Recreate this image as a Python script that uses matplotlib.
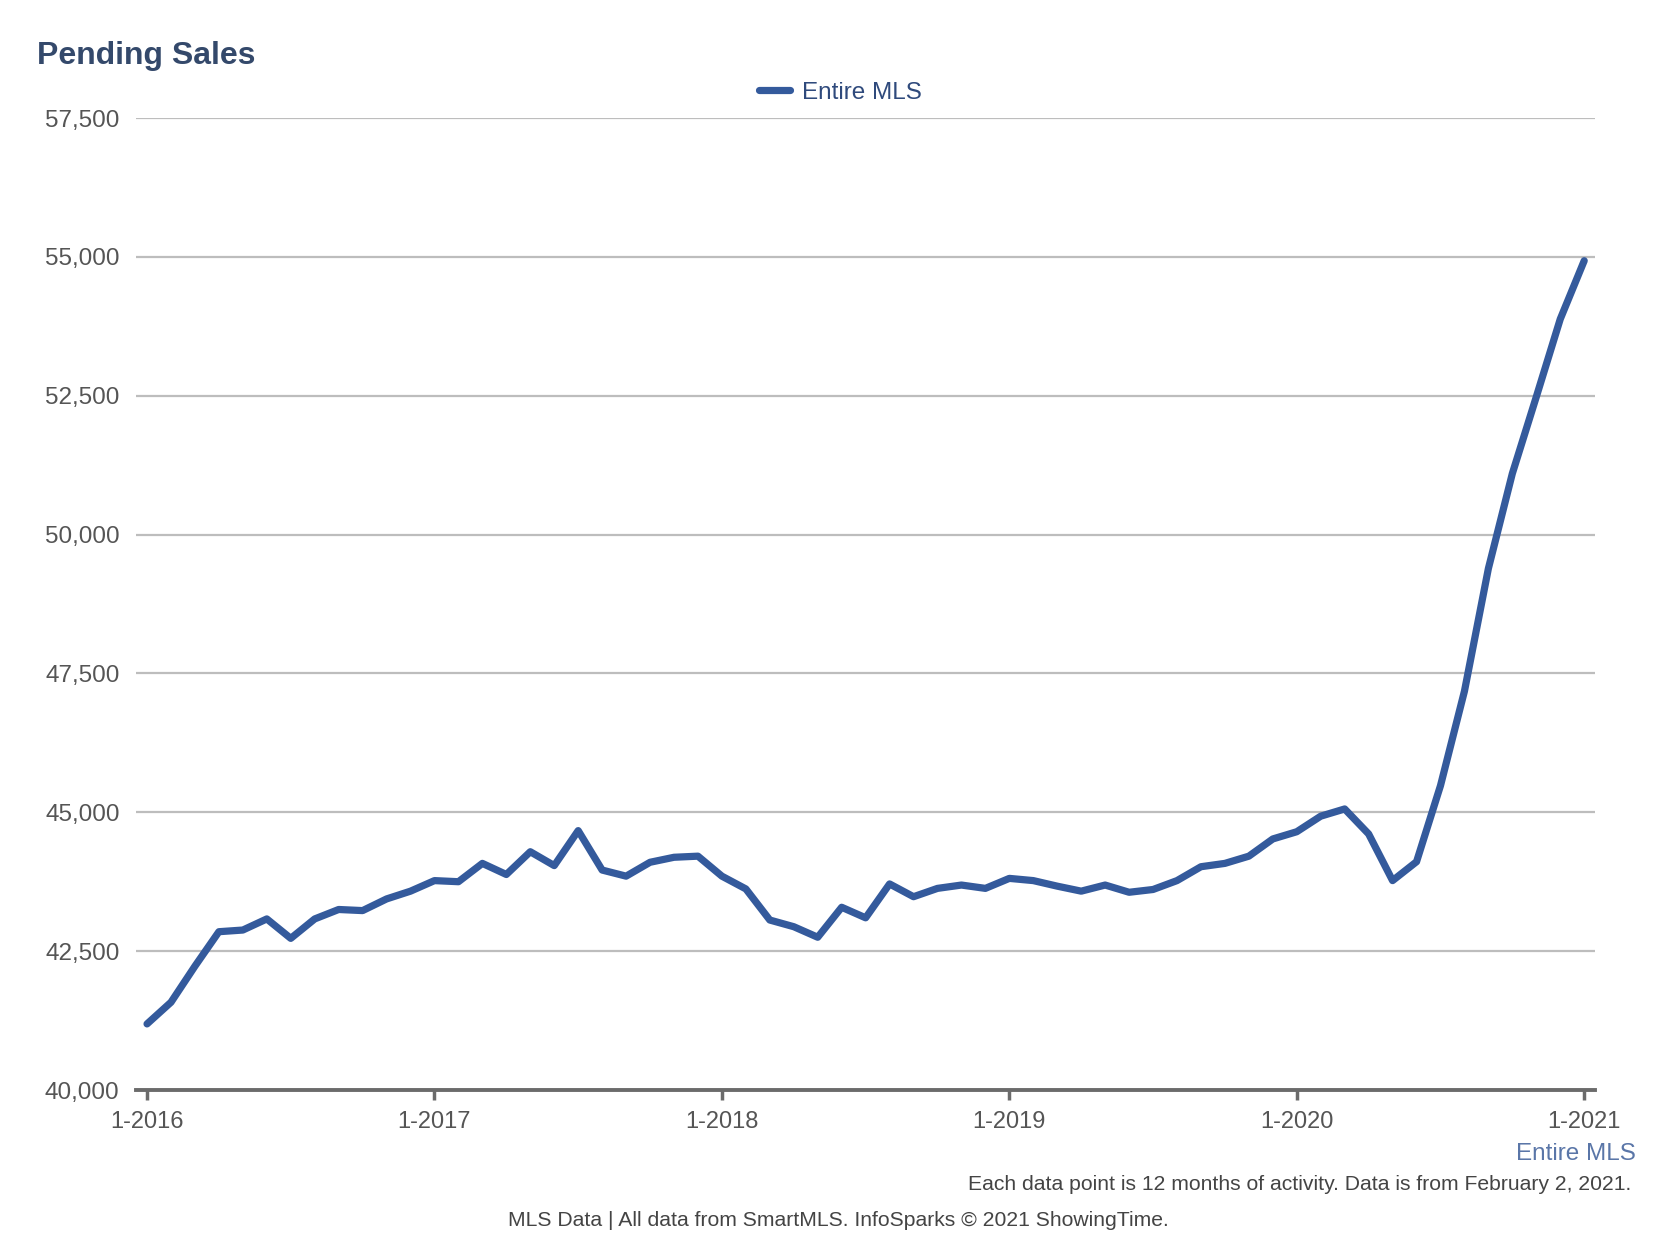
import numpy as np
import matplotlib
matplotlib.use('Agg')
import matplotlib.pyplot as plt
from matplotlib.ticker import FuncFormatter

# monthly values, 1-2016 .. 1-2021 (12-month rolling pending sales)
pending = [41190, 41580, 42230, 42850, 42880, 43080, 42730, 43080, 43250, 43230,
           43440, 43580, 43770, 43750, 44080, 43880, 44290, 44040, 44670, 43960,
           43850, 44100, 44190, 44210, 43850, 43620, 43060, 42940, 42750, 43290,
           43100, 43710, 43480, 43630, 43690, 43630, 43810, 43770, 43670, 43580,
           43690, 43560, 43610, 43770, 44020, 44080, 44210, 44520, 44650, 44930,
           45060, 44610, 43770, 44110, 45480, 47180, 49390, 51100, 52480, 53880,
           54930]
months = np.arange(len(pending))
tick_pos = [0, 12, 24, 36, 48, 60]
tick_labels = ['1-2016', '1-2017', '1-2018', '1-2019', '1-2020', '1-2021']
y_ticks = [40000, 42500, 45000, 47500, 50000, 52500, 55000, 57500]

plt.rcParams['font.family'] = ['Liberation Sans', 'DejaVu Sans']

line_col = '#345a9c'
fig = plt.figure(figsize=(16.74, 12.5), dpi=100)
ax = fig.add_axes([0.0814, 0.128, 0.8714, 0.7776])

ax.plot(months, pending, color=line_col, lw=5.2, solid_joinstyle='round',
        solid_capstyle='round', label='Entire MLS', zorder=3)

ax.set_xlim(-0.45, 60.45)
ax.set_ylim(40000, 57500)
ax.set_yticks(y_ticks)
ax.yaxis.set_major_formatter(FuncFormatter(lambda v, p: f'{int(v):,}'))
ax.set_xticks(tick_pos)
ax.set_xticklabels(tick_labels)

ax.grid(axis='y', color='#bdbdbd', lw=1.6)
ax.set_axisbelow(True)
for s in ['top', 'right', 'left']:
    ax.spines[s].set_visible(False)
ax.spines['bottom'].set_color('#6b6b6b')
ax.spines['bottom'].set_linewidth(2.8)
ax.spines['bottom'].set_zorder(4)

ax.tick_params(axis='y', length=0, pad=12, labelsize=17.5, labelcolor='#555555')
ax.tick_params(axis='x', length=7, width=2.5, color='#6b6b6b', pad=8,
               labelsize=17, labelcolor='#555555')

fig.text(0.0224, 0.955, 'Pending Sales', fontsize=23, fontweight='bold',
         color='#34496b', va='center', ha='left')
fig.legend(loc='center', bbox_to_anchor=(0.502, 0.926), frameon=False,
           fontsize=17.5, labelcolor='#2f4a7c', handlelength=1.3,
           handletextpad=0.5)

fig.text(0.977, 0.077, 'Entire MLS', fontsize=17.5, color='#5a76a8',
         ha='right', va='center')
fig.text(0.9745, 0.0526,
         'Each data point is 12 months of activity. Data is from February 2, 2021.',
         fontsize=15.2, color='#444444', ha='right', va='center')
fig.text(0.501, 0.024,
         'MLS Data | All data from SmartMLS. InfoSparks \u00a9 2021 ShowingTime.',
         fontsize=15.2, color='#444444', ha='center', va='center')

fig.savefig('out.png', dpi=100, facecolor='white')
